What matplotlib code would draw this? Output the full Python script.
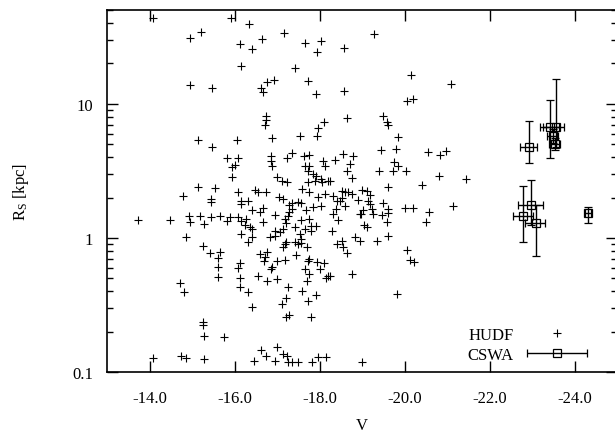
import numpy as np
import matplotlib
matplotlib.use('Agg')
import matplotlib.pyplot as plt
from matplotlib.legend_handler import HandlerErrorbar

# Size (R_S) against V magnitude: HUDF galaxies as crosses and CSWA
# lenses as open squares with error bars, laid out like a gnuplot plot.

# HUDF galaxies: V magnitude and R_S in kpc
hudf_v = [
    -14.09, -15.91, -16.33, -14.94, -15.20, -16.12, -16.40, -16.64, -17.15, -17.65,
    -16.16, -17.41, -14.96, -15.46, -16.61, -16.66, -16.75, -16.92, -17.72, -16.73,
    -16.73, -16.71, -15.13, -16.05, -16.89, -17.53, -15.46, -15.81, -16.07, -15.95,
    -16.02, -15.95, -16.85, -16.85, -16.89, -17.22, -17.36, -17.62, -17.76, -17.65,
    -17.76, -17.72, -17.84, -17.91, -16.99, -17.11, -17.22, -17.58, -14.78, -15.15,
    -15.53, -15.44, -15.44, -16.07, -16.16, -16.31, -16.49, -16.54, -16.73, -17.04,
    -17.13, -17.34, -17.48, -16.42, -16.66, -14.92, -15.18, -15.44, -15.65, -15.88,
    -16.07, -13.72, -14.47, -19.27, -18.02, -17.93, -18.56, -17.91, -18.56, -20.14,
    -21.08, -20.05, -20.19, -18.64, -18.09, -17.95, -17.93, -19.48, -19.58, -19.60,
    -19.84, -19.44, -19.79, -20.54, -20.82, -20.96, -18.54, -18.78, -18.35, -18.07,
    -18.12, -18.71, -18.64, -18.75, -19.39, -19.72, -19.74, -19.84, -20.02, -20.80,
    -21.44, -18.19, -18.05, -19.60, -20.40, -17.76, -17.95, -18.12, -18.31, -18.52,
    -18.59, -18.66, -18.75, -18.47, -18.99, -19.11, -19.18, -19.13, -19.48, -19.60,
    -20.00, -20.19, -20.56, -21.13, -17.67, -17.84, -18.02, -18.38, -18.59, -18.96,
    -19.22, -19.25, -17.72, -17.88, -18.02, -16.14, -17.27, -17.55, -17.36, -16.59,
    -16.96, -17.18, -17.25, -17.29, -17.20, -17.55, -17.76, -17.91, -17.79, -16.14,
    -16.26, -16.24, -16.35, -16.42, -16.66, -16.94, -17.06, -17.13, -17.41, -17.65,
    -17.79, -16.14, -16.42, -16.82, -16.96, -17.20, -17.53, -17.55, -14.96, -15.27,
    -15.81, -14.85, -15.25, -15.41, -15.65, -15.60, -15.62, -15.62, -14.71, -14.80,
    -15.25, -15.25, -15.27, -15.76, -14.07, -14.75, -14.85, -15.27, -16.31, -16.59,
    -16.75, -16.71, -16.68, -17.18, -17.13, -17.41, -17.48, -17.55, -17.69, -17.44,
    -16.99, -17.18, -16.89, -16.85, -17.72, -17.76, -17.65, -17.74, -17.93, -18.09,
    -18.00, -18.19, -18.14, -16.12, -16.07, -16.12, -16.12, -16.31, -16.56, -16.75,
    -16.99, -17.25, -17.20, -17.11, -17.58, -17.69, -17.72, -17.91, -16.40, -17.20,
    -17.29, -17.79, -16.61, -16.73, -16.99, -17.13, -17.22, -16.94, -17.25, -17.36,
    -17.48, -16.45, -18.40, -18.52, -18.89, -19.18, -18.31, -18.42, -19.01, -18.94,
    -19.46, -19.60, -19.58, -20.49, -19.04, -19.11, -19.60, -18.28, -18.52, -18.82,
    -18.94, -19.34, -18.24, -18.40, -18.54, -18.64, -20.05, -20.12, -20.21, -18.75,
    -18.24, -19.81, -17.81, -17.95, -18.14, -18.99,
]
hudf_r = [
    43.9, 43.9, 39.6, 31.1, 34.5, 28.1, 25.8, 30.6, 33.9, 28.5,
    19.3, 18.6, 13.9, 13.2, 13.2, 12.3, 14.6, 15.1, 14.8, 8.14,
    7.59, 6.97, 5.38, 5.38, 5.57, 5.77, 4.77, 3.95, 3.95, 3.39,
    3.51, 2.85, 4.09, 3.75, 3.45, 3.95, 4.31, 4.09, 4.16, 3.45,
    3.45, 3.16, 3.00, 2.90, 2.85, 2.66, 2.61, 2.32, 2.06, 2.40,
    2.36, 1.96, 1.86, 2.20, 1.89, 1.89, 2.28, 2.20, 2.20, 2.02,
    1.96, 1.83, 1.86, 1.61, 1.67, 1.46, 1.46, 1.43, 1.46, 1.43,
    1.43, 1.36, 1.36, 33.3, 29.6, 24.5, 26.2, 11.9, 12.5, 16.4,
    14.1, 10.5, 10.9, 7.86, 7.34, 6.62, 5.77, 8.14, 7.34, 6.97,
    5.67, 4.53, 4.61, 4.38, 4.16, 4.46, 4.23, 4.09, 3.82, 3.75,
    3.45, 3.57, 3.16, 2.80, 3.16, 3.16, 3.69, 3.45, 3.16, 2.90,
    2.75, 2.66, 2.61, 2.40, 2.49, 2.20, 2.02, 2.13, 2.06, 2.24,
    2.20, 2.20, 2.13, 1.89, 2.28, 2.24, 2.09, 1.89, 1.83, 1.64,
    1.67, 1.67, 1.56, 1.73, 1.61, 1.70, 1.73, 1.64, 1.73, 1.51,
    1.64, 1.51, 2.61, 2.66, 2.75, 1.79, 1.76, 1.83, 1.64, 1.56,
    1.48, 1.39, 1.46, 1.56, 1.29, 1.36, 1.39, 1.23, 1.23, 1.34,
    1.39, 1.25, 1.21, 1.17, 1.32, 1.13, 1.11, 1.17, 1.21, 1.17,
    1.13, 1.07, 1.02, 1.02, 1.03, 0.93, 1.07, 0.98, 1.32, 1.27,
    1.34, 1.02, 0.87, 0.77, 0.79, 0.71, 0.61, 0.51, 0.46, 0.395,
    0.236, 0.224, 0.185, 0.182, 0.127, 0.131, 0.127, 0.125, 0.93, 0.76,
    0.79, 0.72, 0.67, 0.90, 0.86, 0.93, 0.90, 0.92, 0.86, 0.75,
    0.67, 0.68, 0.61, 0.587, 0.67, 0.70, 0.587, 0.54, 0.66, 0.65,
    0.587, 0.52, 0.50, 0.65, 0.60, 0.50, 0.43, 0.395, 0.52, 0.48,
    0.49, 0.43, 0.357, 0.32, 0.40, 0.48, 0.34, 0.375, 0.305, 0.257,
    0.266, 0.257, 0.146, 0.131, 0.154, 0.136, 0.131, 0.12, 0.118, 0.118,
    0.118, 0.12, 1.89, 1.99, 1.92, 1.79, 1.51, 1.36, 1.61, 1.51,
    1.48, 1.54, 1.32, 1.32, 1.25, 1.21, 1.03, 1.13, 0.95, 1.02,
    0.95, 0.95, 2.66, 0.90, 0.86, 0.77, 0.81, 0.68, 0.66, 0.54,
    0.52, 0.38, 0.118, 0.129, 0.129, 0.118,
]

# CSWA lenses: V with its range, R_S with its range
cswa_v = [-22.78, -22.96, -23.08, -24.31, -22.92, -23.41, -23.55, -23.48, -23.52]
cswa_v_lo = [-22.54, -22.68, -22.87, -24.24, -22.73, -23.20, -23.35, -23.35, -23.40]
cswa_v_hi = [-23.01, -23.25, -23.34, -24.38, -23.13, -23.65, -23.84, -23.62, -23.65]
cswa_r = [1.46, 1.76, 1.29, 1.54, 4.78, 6.74, 6.74, 5.77, 5.03]
cswa_r_lo = [0.93, 1.25, 0.73, 1.29, 3.63, 3.95, 4.78, 5.10, 4.50]
cswa_r_hi = [2.44, 2.71, 1.75, 1.70, 7.47, 10.7, 15.4, 6.50, 5.60]

x_ticks = [-14, -16, -18, -20, -22, -24]
x_tick_labels = ['-14.0', '-16.0', '-18.0', '-20.0', '-22.0', '-24.0']
y_ticks = [0.1, 1, 10]
y_tick_labels = ['0.1', '1', '10']


def setup_fonts():
    # gnuplot's postscript terminal uses Times, Liberation Serif is the closest
    plt.rcParams['font.family'] = ['Liberation Serif', 'DejaVu Serif']
    plt.rcParams['font.size'] = 12
    plt.rcParams['mathtext.fontset'] = 'custom'
    plt.rcParams['mathtext.rm'] = 'Liberation Serif'
    plt.rcParams['mathtext.it'] = 'Liberation Serif:italic'


def plot_chart():
    fig = plt.figure(figsize=(6.15, 4.35), dpi=100)
    # the right edge of the frame sits just outside the picture
    ax = fig.add_axes([0.174, 0.1425, 0.83, 0.832])

    ax.plot(hudf_v, hudf_r, '+', color='black', markersize=6, mew=0.8,
            linestyle='none')

    v = np.array(cswa_v)
    r = np.array(cswa_r)
    xerr = np.abs([v - np.array(cswa_v_lo), np.array(cswa_v_hi) - v])
    yerr = [r - np.array(cswa_r_lo), np.array(cswa_r_hi) - r]
    ax.errorbar(v, r, xerr=xerr, yerr=yerr, fmt='s', color='black',
                mfc='none', markersize=6, mew=0.9, elinewidth=1.0,
                capsize=3, capthick=1.0)

    # legend entries (the CSWA sample shows only the horizontal bar)
    h1, = ax.plot([np.nan], [np.nan], '+', color='black', markersize=6,
                  mew=0.8, linestyle='none')
    h2 = ax.errorbar([np.nan], [np.nan], xerr=[[0.1]], fmt='s',
                     color='black', mfc='none', markersize=6, mew=0.9,
                     elinewidth=1.0, capsize=3, capthick=1.0)
    leg = ax.legend([h1, h2], ['HUDF', 'CSWA'], loc='lower right',
                    bbox_to_anchor=(0.94, 0.025), frameon=False,
                    markerfirst=False, handlelength=3.6, handletextpad=0.8,
                    labelspacing=0.25, borderpad=0, borderaxespad=0,
                    fontsize=12,
                    handler_map={h2: HandlerErrorbar(xerr_size=1.8)})
    # right-align the labels like gnuplot does
    for col in leg._legend_handle_box.get_children():
        col.align = 'right'

    ax.set_yscale('log')
    ax.set_xlim(-13, -25)
    ax.set_ylim(0.1, 50)

    ax.set_xticks(x_ticks)
    ax.set_xticklabels(x_tick_labels)
    ax.set_yticks(y_ticks)
    ax.set_yticklabels(y_tick_labels)
    ax.tick_params(which='both', direction='in', top=True, right=True,
                   labelsize=12, width=1.0)
    ax.tick_params(axis='x', pad=13)
    ax.tick_params(axis='y', pad=10)
    ax.tick_params(which='major', length=8)
    ax.tick_params(which='minor', length=4)
    ax.tick_params(axis='x', which='minor', bottom=False, top=False)

    for spine in ax.spines.values():
        spine.set_linewidth(1.2)
    ax.spines['right'].set_visible(False)

    ax.set_xlabel('V', fontsize=12, labelpad=8)
    ax.set_ylabel(r'R$_\mathrm{S}$ [kpc]', fontsize=12, labelpad=30)

    fig.savefig('out.png', dpi=100)


setup_fonts()
plot_chart()
